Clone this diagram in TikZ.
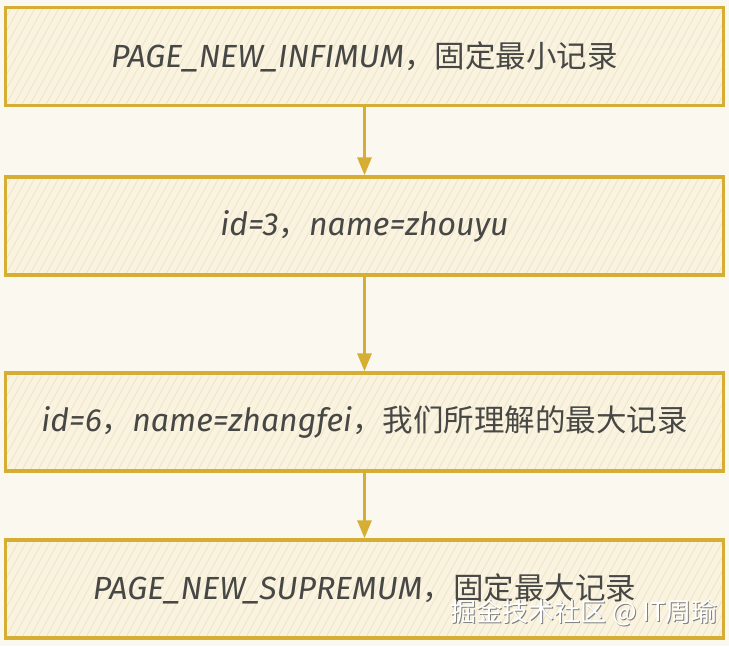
\documentclass[tikz,border=0pt]{standalone}
\usepackage{fontspec}
\setmainfont{Noto Sans CJK SC}
\newfontfamily\hand{Fira Sans}
\usetikzlibrary{arrows.meta,positioning}
\definecolor{pgbg}{HTML}{FBF8EF}
\definecolor{pgfill}{HTML}{F9F3DF}
\definecolor{pghatch}{HTML}{EEE4C8}
\definecolor{pgedge}{HTML}{D5AE33}
\definecolor{pgtext}{HTML}{474745}
\newcommand{\lat}[1]{{\hand\itshape\fontsize{32}{36}\selectfont #1}}

\begin{document}
\begin{tikzpicture}[x=1pt,y=-1pt,
  rec/.style={draw=pgedge,line width=3.4pt,fill=pgfill,minimum width=718pt,minimum height=98pt,
    inner sep=0pt,text=pgtext,font=\fontsize{30.5}{34}\selectfont,
    path picture={\foreach \k in {0,...,105}{\draw[pghatch,line width=0.8pt]
      ([xshift=\k*8pt-80pt]path picture bounding box.south west) -- ++(55pt,100pt);}}},
  link/.style={pgedge,line width=3pt,-{Triangle[length=18pt,width=14pt]}}]
  \fill[pgbg] (0,0) rectangle (729,646);
  \node[rec] (inf) at (364.5,56.5) {\lat{PAGE\_NEW\_INFIMUM}，固定最小记录};
  \node[rec] (r3) at (364.5,226) {\lat{id=3}，\lat{name=zhouyu}};
  \node[rec] (r6) at (364.5,422) {\lat{id=6}，\lat{name=zhangfei}，我们所理解的最大记录};
  \node[rec] (sup) at (364.5,589) {\lat{PAGE\_NEW\_SUPREMUM}，固定最大记录};
  \draw[link] (inf) -- (r3);
  \draw[link] (r3) -- (r6);
  \draw[link] (r6) -- (sup);
  % watermark
  \node[text=gray,font=\fontsize{26}{30}\selectfont] (wms) at (585.2,614.2) {掘金技术社区 @ IT周瑜};
  \node[text=white,font=\fontsize{26}{30}\selectfont] (wm) at (584,613) {掘金技术社区 @ IT周瑜};
\end{tikzpicture}
\end{document}
